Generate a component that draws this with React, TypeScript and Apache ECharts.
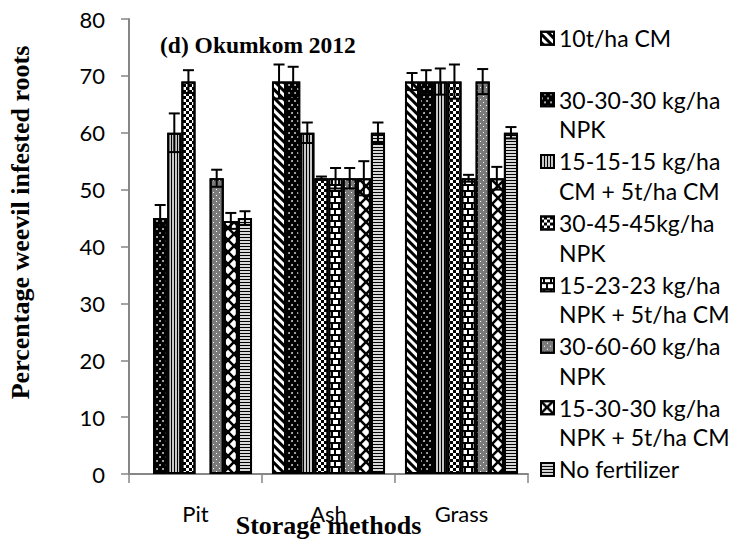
import React, { useEffect, useRef } from 'react';
import * as echarts from 'echarts';

const categories = ['Pit', 'Ash', 'Grass'];

const seriesNames = [
  '10t/ha CM',
  '30-30-30 kg/ha NPK',
  '15-15-15 kg/ha CM + 5t/ha CM',
  '30-45-45kg/ha NPK',
  '15-23-23 kg/ha NPK + 5t/ha CM',
  '30-60-60 kg/ha NPK',
  '15-30-30 kg/ha NPK + 5t/ha CM',
  'No fertilizer',
];

const legendLines: string[][] = [
  ['10t/ha CM'],
  ['30-30-30 kg/ha', 'NPK'],
  ['15-15-15 kg/ha', 'CM + 5t/ha CM'],
  ['30-45-45kg/ha', 'NPK'],
  ['15-23-23 kg/ha', 'NPK + 5t/ha CM'],
  ['30-60-60 kg/ha', 'NPK'],
  ['15-30-30 kg/ha', 'NPK + 5t/ha CM'],
  ['No fertilizer'],
];

// values per treatment over [Pit, Ash, Grass]; null = no bar
const values10tCM = [null, 69, 69];
const values303030 = [45, 69, 69];
const values151515 = [60, 60, 69];
const values304545 = [69, 52, 69];
const values152323 = [null, 52, 52];
const values306060 = [52, 52, 69];
const values153030 = [44.5, 52, 52];
const valuesNoFert = [45, 60, 60];

const errors10tCM = [0, 3, 1.5];
const errors303030 = [2.3, 2.6, 2];
const errors151515 = [3.4, 1.8, 2.3];
const errors304545 = [2, 0.3, 3];
const errors152323 = [0, 1.8, 0.6];
const errors306060 = [1.5, 1.8, 2.2];
const errors153030 = [1.4, 3, 2];
const errorsNoFert = [1.2, 1.8, 1];

const allValues = [values10tCM, values303030, values151515, values304545, values152323, values306060, values153030, valuesNoFert];
const allErrors = [errors10tCM, errors303030, errors151515, errors304545, errors152323, errors306060, errors153030, errorsNoFert];

const yTicks = { min: 0, max: 80, interval: 10 };

const CAT_GAP = 0.15;

const crossPath =
  'path://M0,0L1.5,0L5,3.5L8.5,0L10,0L10,1.5L6.5,5L10,8.5L10,10L8.5,10L5,6.5L1.5,10L0,10L0,8.5L3.5,5L0,1.5Z';

const styles: any[] = [
  { color: '#fff', decal: { color: '#000', symbol: 'rect', dashArrayX: [1, 0], dashArrayY: [3, 3], rotation: Math.PI / 4 } },
  { color: '#000', decal: { color: '#ddd', symbol: 'circle', symbolSize: 0.9, dashArrayX: [[2, 4], [0, 3, 2, 1]], dashArrayY: [2, 2] } },
  { color: '#c8c8c8', decal: { color: '#000', symbol: 'rect', dashArrayX: [1, 2], dashArrayY: [1, 0] } },
  { color: '#fff', decal: { color: '#000', symbol: 'rect', dashArrayX: [[3, 3], [0, 3, 3, 0]], dashArrayY: [3, 0] } },
  { color: '#000', decal: { color: '#fff', symbol: 'rect', dashArrayX: [[5, 2], [2, 2, 3, 0]], dashArrayY: [4, 2] } },
  { color: '#7a7a7a', decal: { color: '#fff', symbol: 'rect', dashArrayX: [[1, 5], [0, 3, 1, 2]], dashArrayY: [1, 2] } },
  { color: '#fff', decal: { color: '#000', symbol: crossPath, symbolSize: 1, symbolKeepAspect: false, dashArrayX: [12, 0], dashArrayY: [12, 0] } },
  { color: '#d8d8d8', decal: { color: '#000', symbol: 'rect', dashArrayX: [1, 0], dashArrayY: [1, 2] } },
];

const calibri = 'Lato, "Open Sans", sans-serif';
const times = '"Liberation Serif", "Times New Roman", serif';

export default function App() {
  const ref = useRef<HTMLDivElement>(null);
  useEffect(() => {
    const chart = echarts.init(ref.current!, null, { renderer: 'svg' });

    const errorData: number[][] = [];
    allValues.forEach((vals, s) => {
      vals.forEach((v, c) => {
        if (v !== null) errorData.push([c, s, v as number, allErrors[s][c]]);
      });
    });

    const barSeries = seriesNames.map((name, i) => ({
      name,
      type: 'bar',
      barGap: '0%',
      barCategoryGap: CAT_GAP * 100 + '%',
      data: allValues[i].map((v) => (v === null ? '-' : v)),
      itemStyle: { ...styles[i], borderColor: '#000', borderWidth: 2 },
      emphasis: { disabled: true },
    }));

    const errorSeries = {
      type: 'custom',
      name: 'errors',
      z: 10,
      encode: { x: 0, y: 2 },
      data: errorData,
      renderItem: (params: any, api: any) => {
        const c = api.value(0);
        const s = api.value(1);
        const v = api.value(2);
        const e = api.value(3);
        const band = api.size([1, 0])[0];
        const used = band * (1 - CAT_GAP);
        const barW = used / seriesNames.length;
        const center = api.coord([c, v]);
        const x = center[0] - used / 2 + (s + 0.5) * barW;
        const yt = api.coord([c, v + e])[1];
        const yb = api.coord([c, v - e])[1];
        const half = 5.5;
        const st = { stroke: '#000', lineWidth: 2 };
        return {
          type: 'group',
          children: [
            { type: 'line', shape: { x1: x, y1: yt, x2: x, y2: yb }, style: st },
            { type: 'line', shape: { x1: x - half, y1: yt, x2: x + half, y2: yt }, style: st },
            { type: 'line', shape: { x1: x - half, y1: yb, x2: x + half, y2: yb }, style: st },
          ],
        };
      },
    };

    chart.setOption({
      animation: false,
      backgroundColor: '#fff',
      title: {
        text: '(d) Okumkom 2012',
        left: 160,
        top: 33,
        padding: 0,
        textStyle: { fontFamily: times, fontWeight: 'bold', fontSize: 23.5, color: '#000' },
      },
      legend: {
        orient: 'vertical',
        left: 540,
        top: -6,
        padding: 0,
        itemGap: -26.9,
        itemWidth: 13,
        itemHeight: 13,
        icon: 'rect',
        selectedMode: false,
        data: seriesNames,
        formatter: (name: string) => {
          const idx = seriesNames.indexOf(name);
          const lines = legendLines[idx];
          return '\n' + lines[0] + '\n' + (lines[1] || ' ');
        },
        textStyle: { fontFamily: calibri, fontSize: 23, lineHeight: 29.5, color: '#000' },
      },
      grid: { left: 129, top: 19, width: 399, height: 455, containLabel: false, outerBoundsMode: 'none' },
      xAxis: {
        type: 'category',
        data: categories,
        name: 'Storage methods',
        nameLocation: 'middle',
        nameGap: 38,
        nameMoveOverlap: false,
        nameTextStyle: { fontFamily: times, fontWeight: 'bold', fontSize: 26, color: '#000' },
        axisLine: { lineStyle: { color: '#868686', width: 2 } },
        axisTick: { show: true, length: 9, lineStyle: { color: '#868686', width: 1.5 } },
        axisLabel: { fontFamily: calibri, fontSize: 22, color: '#000', margin: 28 },
      },
      yAxis: {
        type: 'value',
        min: yTicks.min,
        max: yTicks.max,
        interval: yTicks.interval,
        name: 'Percentage weevil infested roots',
        nameLocation: 'middle',
        nameGap: 96,
        nameMoveOverlap: false,
        nameTextStyle: { fontFamily: times, fontWeight: 'bold', fontSize: 26, color: '#000', padding: [0, 0, 0, 48] },
        axisLine: { show: true, lineStyle: { color: '#868686', width: 2 } },
        axisTick: { show: true, length: 8, lineStyle: { color: '#868686', width: 1.5 } },
        splitLine: { show: false },
        axisLabel: { fontFamily: calibri, fontSize: 22, color: '#000', margin: 24 },
      },
      series: [...barSeries, errorSeries],
    });
    return () => chart.dispose();
  }, []);
  return <div ref={ref} style={{ position: 'absolute', left: 0, top: 0, width: 736, height: 539 }} />;
}
